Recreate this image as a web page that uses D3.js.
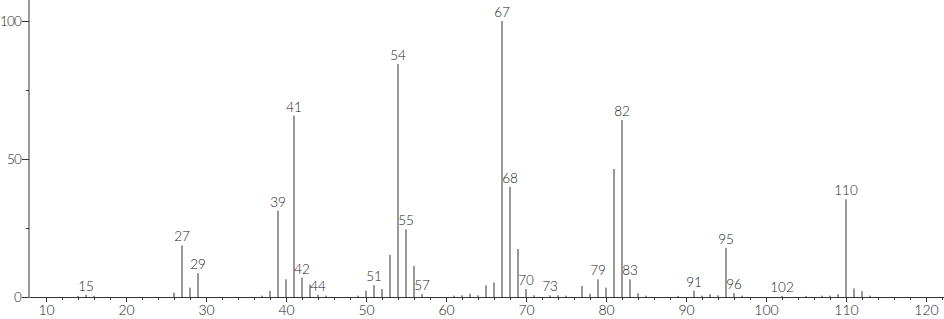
<!DOCTYPE html>
<html>
<head>
<meta charset="utf-8">
<script src="https://cdn.jsdelivr.net/npm/d3@7"></script>
<style>
  body { margin: 0; background: #fff; }
  svg { display: block; }
  text { font-family: Lato, "Noto Sans", sans-serif; font-weight: 300; fill: #222; }
</style>
</head>
<body>
<script>
const w = 944;
const h = 319;

// m/z values and relative intensities
const mz = [14, 15, 16, 26, 27, 28, 29, 37, 38, 39, 40, 41, 42, 43, 44, 45, 49, 50, 51, 52,
	53, 54, 55, 56, 57, 61, 62, 63, 64, 65, 66, 67, 68, 69, 70, 71, 73, 74, 75, 77,
	78, 79, 80, 81, 82, 83, 84, 85, 89, 91, 92, 93, 94, 95, 96, 97, 102, 105, 107, 108,
	109, 110, 111, 112, 113];
const intensity = [0.4, 0.8, 0.4, 1.6, 18.7, 3.4, 8.6, 0.5, 2.2, 31.3, 6.4, 65.7, 7, 4.5, 0.8, 0.5, 0.5, 2.3, 4.3, 2.9,
	15.2, 84.4, 24.5, 11.2, 1, 0.5, 0.6, 1.2, 0.6, 4.2, 5.3, 100, 39.9, 17.4, 2.9, 0.6, 0.6, 0.6, 0.5, 4,
	1.2, 6.4, 3.4, 46.4, 64.1, 6.4, 1.4, 0.5, 0.4, 2.3, 0.5, 1, 0.6, 17.8, 1.4, 0.5, 0.4, 0.4, 0.5, 0.5,
	1, 35.4, 3.1, 2.1, 0.5];
const labelled = [15, 27, 29, 39, 41, 42, 44, 51, 54, 55, 57, 67, 68, 70, 73, 79, 82, 83, 91, 95, 96, 102, 110];

const xMajor = d3.range(10, 121, 10);
const xMinor = d3.range(10, 123, 2);
const yMajor = [0, 50, 100];
const yMinor = [25, 75];

const peaks = mz.map((m, i) => ({ mz: m, value: intensity[i] }));

const x = d3.scaleLinear().domain([7.875, 122.25]).range([29, 944]);
const y = d3.scaleLinear().domain([0, 100]).range([297, 21]);

const svg = d3.select('body').append('svg')
	.attr('width', w)
	.attr('height', h);

// x axis: minor ticks
svg.append('g')
	.attr('transform', `translate(0,${y(0)})`)
	.call(d3.axisBottom(x).tickValues(xMinor).tickSize(3).tickFormat('').tickSizeOuter(0))
	.call(g => g.select('.domain').attr('stroke', '#333'))
	.call(g => g.selectAll('.tick line').attr('stroke', '#333'));

// x axis: labelled ticks
svg.append('g')
	.attr('transform', `translate(0,${y(0)})`)
	.call(d3.axisBottom(x).tickValues(xMajor).tickSize(5).tickPadding(3))
	.call(g => g.select('.domain').remove())
	.call(g => g.selectAll('.tick line').attr('stroke', '#333'))
	.call(g => g.selectAll('.tick text').attr('font-size', 14).attr('fill', '#222'));

// y axis
svg.append('g')
	.attr('transform', `translate(${x(7.875)},0)`)
	.call(d3.axisLeft(y).tickValues(yMinor).tickSize(3).tickFormat('').tickSizeOuter(0))
	.call(g => g.select('.domain').remove())
	.call(g => g.selectAll('.tick line').attr('stroke', '#333'));

svg.append('g')
	.attr('transform', `translate(${x(7.875)},0)`)
	.call(d3.axisLeft(y).tickValues(yMajor).tickSize(7).tickPadding(1).tickSizeOuter(0))
	.call(g => g.select('.domain').remove())
	.call(g => g.selectAll('.tick line').attr('stroke', '#333'))
	.call(g => g.selectAll('.tick text').attr('font-size', 13.5).attr('letter-spacing', -0.8).attr('fill', '#222'));

svg.append('line')
	.attr('x1', x(7.875)).attr('x2', x(7.875))
	.attr('y1', 0).attr('y2', y(0))
	.attr('stroke', '#333');

// peaks
svg.append('g')
	.selectAll('line')
	.data(peaks)
	.enter()
	.append('line')
	.attr('x1', d => x(d.mz))
	.attr('x2', d => x(d.mz))
	.attr('y1', y(0))
	.attr('y2', d => y(d.value))
	.attr('stroke', '#333')
	.attr('stroke-width', 1);

// peak labels
svg.append('g')
	.selectAll('text')
	.data(peaks.filter(d => labelled.includes(d.mz)))
	.enter()
	.append('text')
	.attr('x', d => x(d.mz))
	.attr('y', d => y(d.value) - 4)
	.attr('text-anchor', 'middle')
	.attr('font-size', 13.5)
	.text(d => d.mz);
</script>
</body>
</html>
